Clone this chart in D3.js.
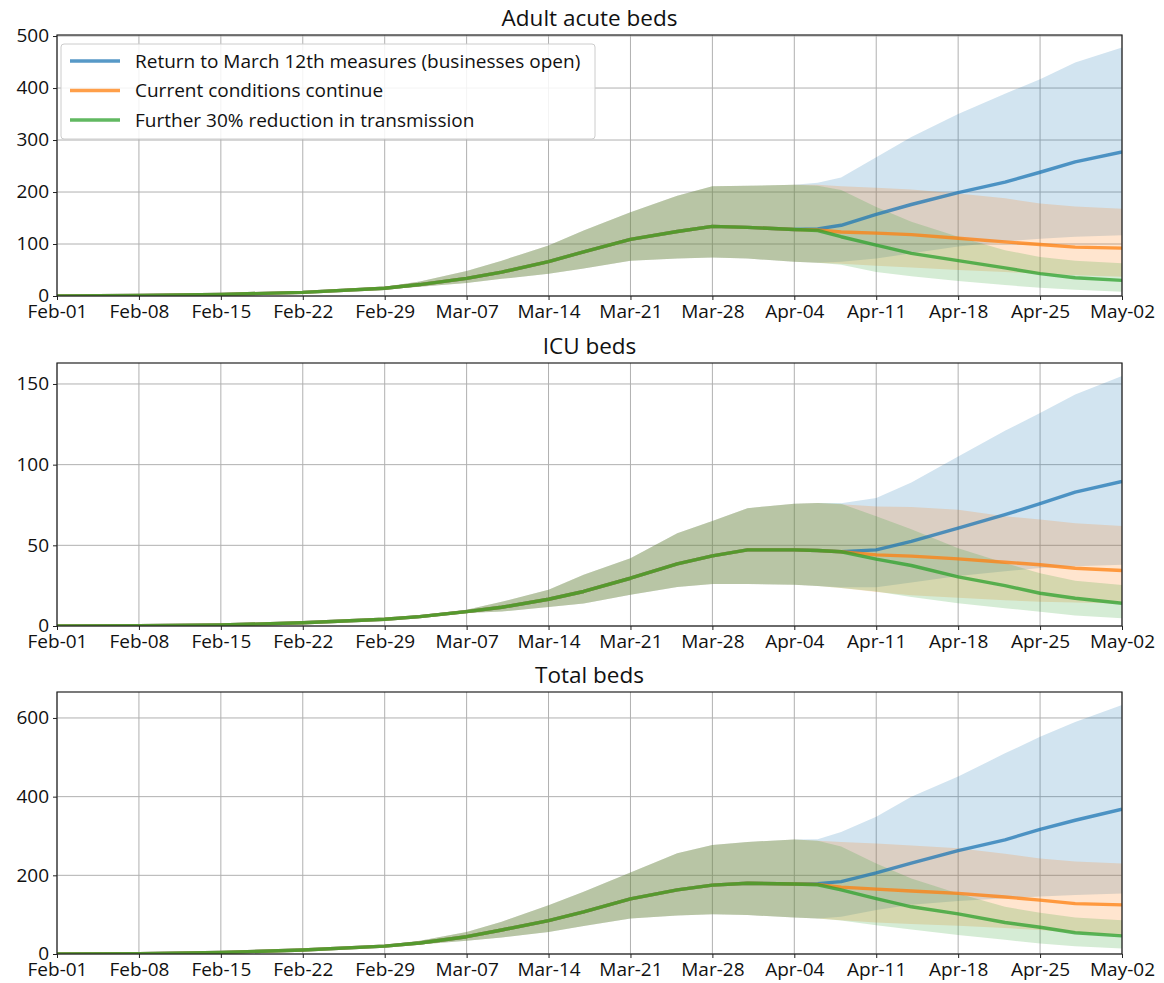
<!DOCTYPE html>
<html lang="en">
<head>
<meta charset="UTF-8">
<title>Hospital beds</title>
<script src="https://cdn.jsdelivr.net/npm/d3@7"></script>
<style>
  body { margin: 0; background: #fff; }
  text { font-family: "Open Sans", Lato, sans-serif; fill: #111; }
</style>
</head>
<body>
<div id="chart"></div>
<script>
// days counted from Feb-01 (2020)
const histDays = [0, 7, 14, 21, 28, 31, 35, 38, 42, 45, 49, 53, 56, 59, 63];
const projDays = [65, 67, 70, 73, 77, 81, 84, 87, 91];

const seriesNames = ["Return to March 12th measures (businesses open)",
                     "Current conditions continue",
                     "Further 30% reduction in transmission"];

// Adult acute beds
const acuteHistMed = [0, 1, 3, 7, 15, 22, 34, 46, 66, 85, 109, 124, 134, 132, 128];
const acuteHistHi  = [0, 1.5, 4, 9, 18, 28, 48, 68, 97, 126, 161, 193, 211, 212, 214];
const acuteHistLo  = [0, 0.5, 2, 6, 13, 18, 25, 33, 43, 53, 68, 72, 74, 72, 66];
const acuteBlueMed = [129, 136, 157, 176, 199, 219, 238, 258, 277];
const acuteBlueHi  = [218, 228, 267, 306, 350, 389, 417, 449, 478];
const acuteBlueLo  = [64, 66, 72, 82, 95, 105, 110, 114, 117];
const acuteOrgMed  = [127, 123, 121, 118, 111, 104, 99, 94, 92];
const acuteOrgHi   = [214, 211, 208, 205, 197, 188, 178, 172, 168];
const acuteOrgLo   = [64, 62, 58, 55, 50, 46, 43, 40, 37];
const acuteGrnMed  = [126, 114, 98, 82, 68, 54, 43, 35, 30];
const acuteGrnHi   = [212, 204, 171, 143, 114, 88, 75, 68, 63];
const acuteGrnLo   = [64, 60, 46, 38, 29, 21, 16, 12, 8];

// ICU beds
const icuHistMed = [0, 0.2, 0.6, 2, 4.2, 5.8, 8.9, 11.6, 16.6, 21.4, 29.6, 38.5, 43.5, 47.2, 47.2];
const icuHistHi  = [0, 0.3, 0.8, 2.4, 4.8, 6.8, 10, 15, 22.4, 31.7, 42, 57.5, 65, 73, 75.8];
const icuHistLo  = [0, 0.1, 0.4, 1.6, 3.7, 5, 8, 9, 11.7, 14, 19.4, 24.1, 26.1, 26, 25.5];
const icuBlueMed = [46.8, 46, 47.2, 52.5, 60.6, 69, 75.8, 83, 89.6];
const icuBlueHi  = [76.2, 76, 79.3, 89, 105, 121, 132, 143.5, 155];
const icuBlueLo  = [24.8, 24, 24, 27, 31, 34, 36, 37, 38];
const icuOrgMed  = [46.8, 46, 44.1, 43.3, 41.6, 39.5, 38, 35.8, 34.4];
const icuOrgHi   = [76.2, 75.5, 74.1, 73.8, 72, 68, 66, 63.7, 62];
const icuOrgLo   = [24.8, 23.5, 21, 19, 17.5, 16, 15, 14.5, 14];
const icuGrnMed  = [46.8, 46, 41.4, 37.5, 30.4, 25, 20.3, 17.2, 14.1];
const icuGrnHi   = [76.2, 75.8, 68, 60, 48.2, 39, 32.7, 28.1, 25.4];
const icuGrnLo   = [24.8, 23.5, 21.4, 18, 14.1, 11, 8.9, 6.5, 4.8];

// Total beds
const totHistMed = [0, 1, 4, 10, 20, 28, 44, 61, 85, 107, 140, 163, 175, 180, 178];
const totHistHi  = [0, 1.5, 5, 12, 23, 34, 56, 82, 124, 158, 207, 256, 277, 285, 291];
const totHistLo  = [0, 0.5, 3, 8, 18, 24, 34, 42, 56, 71, 90, 98, 101, 99, 93];
const totBlueMed = [179, 184, 206, 231, 263, 290, 317, 340, 368];
const totBlueHi  = [292, 310, 349, 400, 451, 510, 552, 590, 633];
const totBlueLo  = [90, 95, 112, 125, 135, 142, 146, 150, 154];
const totOrgMed  = [177, 170, 165, 160, 154, 145, 137, 128, 125];
const totOrgHi   = [288, 285, 281, 276, 269, 255, 243, 235, 230];
const totOrgLo   = [90, 86, 80, 76, 72, 66, 61, 54, 48];
const totGrnMed  = [176, 163, 141, 120, 102, 80, 68, 54, 46];
const totGrnHi   = [288, 273, 230, 192, 154, 120, 105, 93, 86];
const totGrnLo   = [90, 85, 73, 62, 48, 36, 27, 20, 14];

const colors = ["#1f77b4", "#ff7f0e", "#2ca02c"];

const W = 1164, H = 983;
const left = 57, right = 1122;
const start = new Date(Date.UTC(2020, 1, 1));
const dayToDate = d => new Date(start.getTime() + d * 864e5);

const allDays = histDays.concat(projDays);
function build(hm, hh, hl, pm, ph, pl) {
  const med = hm.concat(pm), hi = hh.concat(ph), lo = hl.concat(pl);
  return allDays.map((d, i) => ({date: dayToDate(d), med: med[i], hi: hi[i], lo: lo[i]}));
}

const panels = [
  {title: "Adult acute beds", top: 35, bottom: 296, ymax: 502, yticks: [0, 100, 200, 300, 400, 500], legend: true,
   series: [build(acuteHistMed, acuteHistHi, acuteHistLo, acuteBlueMed, acuteBlueHi, acuteBlueLo),
            build(acuteHistMed, acuteHistHi, acuteHistLo, acuteOrgMed, acuteOrgHi, acuteOrgLo),
            build(acuteHistMed, acuteHistHi, acuteHistLo, acuteGrnMed, acuteGrnHi, acuteGrnLo)]},
  {title: "ICU beds", top: 363, bottom: 626, ymax: 163, yticks: [0, 50, 100, 150],
   series: [build(icuHistMed, icuHistHi, icuHistLo, icuBlueMed, icuBlueHi, icuBlueLo),
            build(icuHistMed, icuHistHi, icuHistLo, icuOrgMed, icuOrgHi, icuOrgLo),
            build(icuHistMed, icuHistHi, icuHistLo, icuGrnMed, icuGrnHi, icuGrnLo)]},
  {title: "Total beds", top: 692, bottom: 954, ymax: 666, yticks: [0, 200, 400, 600],
   series: [build(totHistMed, totHistHi, totHistLo, totBlueMed, totBlueHi, totBlueLo),
            build(totHistMed, totHistHi, totHistLo, totOrgMed, totOrgHi, totOrgLo),
            build(totHistMed, totHistHi, totHistLo, totGrnMed, totGrnHi, totGrnLo)]}
];

const svg = d3.select("#chart").append("svg")
  .attr("width", W).attr("height", H);

const x = d3.scaleUtc().domain([start, dayToDate(91)]).range([left, right]);
const xticks = d3.utcDay.range(start, dayToDate(92), 7);
const fmt = d3.utcFormat("%b-%d");

panels.forEach((p, k) => {
  const y = d3.scaleLinear().domain([0, p.ymax]).range([p.bottom, p.top]);
  const g = svg.append("g");

  g.append("clipPath").attr("id", "clip" + k)
    .append("rect").attr("x", left).attr("y", p.top)
    .attr("width", right - left).attr("height", p.bottom - p.top);

  // grid
  g.append("g").selectAll("line").data(xticks).join("line")
    .attr("x1", d => x(d)).attr("x2", d => x(d))
    .attr("y1", p.top).attr("y2", p.bottom)
    .attr("stroke", "#b0b0b0").attr("stroke-width", 1);
  g.append("g").selectAll("line").data(p.yticks).join("line")
    .attr("x1", left).attr("x2", right)
    .attr("y1", d => y(d)).attr("y2", d => y(d))
    .attr("stroke", "#b0b0b0").attr("stroke-width", 1);

  const area = d3.area().x(d => x(d.date)).y0(d => y(d.lo)).y1(d => y(d.hi));
  const line = d3.line().x(d => x(d.date)).y(d => y(d.med));

  const plot = g.append("g").attr("clip-path", `url(#clip${k})`);
  p.series.forEach((s, i) => {
    plot.append("path").attr("d", area(s))
      .attr("fill", colors[i]).attr("fill-opacity", 0.2);
  });
  p.series.forEach((s, i) => {
    plot.append("path").attr("d", line(s))
      .attr("fill", "none").attr("stroke", colors[i])
      .attr("stroke-opacity", 0.75).attr("stroke-width", 3.4)
      .attr("stroke-linejoin", "round");
  });

  // axes
  const xa = g.append("g").attr("transform", `translate(0,${p.bottom})`)
    .call(d3.axisBottom(x).tickValues(xticks).tickFormat(fmt).tickSize(4).tickPadding(5));
  const ya = g.append("g").attr("transform", `translate(${left},0)`)
    .call(d3.axisLeft(y).tickValues(p.yticks).tickSize(4).tickPadding(4));
  [xa, ya].forEach(a => {
    a.select(".domain").remove();
    a.selectAll("line").attr("stroke", "#222");
    a.selectAll("text").style("font-size", "19px").attr("fill", "#111");
  });
  ya.selectAll("text").attr("dy", "0.3em");

  g.append("rect").attr("x", left).attr("y", p.top)
    .attr("width", right - left).attr("height", p.bottom - p.top)
    .attr("fill", "none").attr("stroke", "#222").attr("stroke-width", 1.2);

  g.append("text").attr("x", (left + right) / 2).attr("y", p.top - 9)
    .attr("text-anchor", "middle").style("font-size", "22.5px").text(p.title);

  if (p.legend) {
    const lg = g.append("g").attr("transform", `translate(${left + 4},${p.top + 9})`);
    lg.append("rect").attr("width", 534).attr("height", 95).attr("rx", 3)
      .attr("fill", "#fff").attr("fill-opacity", 0.85)
      .attr("stroke", "#ccc");
    seriesNames.forEach((n, i) => {
      const yy = 17 + i * 29.5;
      lg.append("line").attr("x1", 9).attr("x2", 59).attr("y1", yy).attr("y2", yy)
        .attr("stroke", colors[i]).attr("stroke-opacity", 0.75).attr("stroke-width", 3.4);
      lg.append("text").attr("x", 74).attr("y", yy).attr("dy", "0.35em")
        .style("font-size", "19px").text(n);
    });
  }
});
</script>
</body>
</html>
